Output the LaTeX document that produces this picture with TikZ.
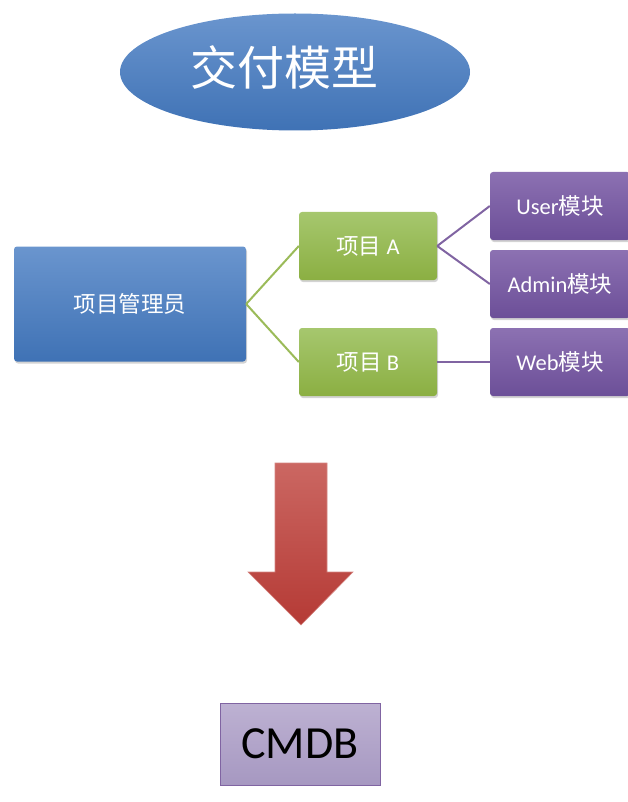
\documentclass[tikz,border=0pt]{standalone}
\usepackage{fontspec}
\setmainfont{Carlito}
\newfontfamily\cjk{Noto Sans CJK SC}
\usetikzlibrary{shadows,shapes.geometric}

\definecolor{bluetop}{HTML}{6A95CE}
\definecolor{bluebot}{HTML}{3F72B5}
\definecolor{greentop}{HTML}{A6C76E}
\definecolor{greenbot}{HTML}{8BAF42}
\definecolor{purptop}{HTML}{8C71B2}
\definecolor{purpbot}{HTML}{6C4F98}
\definecolor{greenline}{HTML}{9BBB59}
\definecolor{purpline}{HTML}{8064A2}
\definecolor{redtop}{HTML}{CB6762}
\definecolor{redbot}{HTML}{B53A35}
\definecolor{cmdbtop}{HTML}{BDB1D2}
\definecolor{cmdbbot}{HTML}{A698C1}

\tikzset{
  box/.style={rectangle, rounded corners=3pt, text=white, font=\fontsize{22.5}{26}\selectfont,
    drop shadow={opacity=0.35, shadow xshift=1pt, shadow yshift=-2pt}},
  bluebox/.style={box, top color=bluetop, bottom color=bluebot},
  greenbox/.style={box, top color=greentop, bottom color=greenbot, minimum width=138pt, minimum height=68pt},
  purpbox/.style={box, top color=purptop, bottom color=purpbot, minimum width=140pt, minimum height=68pt},
  gline/.style={greenline, line width=2pt},
  pline/.style={purpline, line width=2pt}
}

\begin{document}
\begin{tikzpicture}[x=1pt,y=-1pt]
\useasboundingbox (0,0) rectangle (627,802);

\node[ellipse, top color=bluetop, bottom color=bluebot, minimum width=350pt, minimum height=117pt] (title) at (295,72) {};
\node[text=white, font=\cjk\fontsize{47}{50}\selectfont] (titletext) at (284,67) {交付模型};

\node[bluebox, minimum width=232pt, minimum height=115pt] (mgr) at (130,304) {\cjk 项目管理员};
\node[greenbox] (pa) at (368,246) {{\cjk 项目} A};
\node[greenbox] (pb) at (368,362) {{\cjk 项目} B};
\node[purpbox] (user) at (560,206) {User{\cjk 模块}};
\node[purpbox] (admin) at (560,284) {Admin{\cjk 模块}};
\node[purpbox] (web) at (560,362) {Web{\cjk 模块}};

\draw[gline] (mgr.east) -- (pa.west);
\draw[gline] (mgr.east) -- (pb.west);
\draw[pline] (pa.east) -- (user.west);
\draw[pline] (pa.east) -- (admin.west);
\draw[pline] (pb.east) -- (web.west);

% big arrow
\shade[top color=redtop, bottom color=redbot, draw=redtop!80!white, line width=0.6pt]
  (275,463) -- (327,463) -- (327,572) -- (353,572) -- (301,625) -- (248,572) -- (275,572) -- cycle;

\node[rectangle, top color=cmdbtop, bottom color=cmdbbot, draw=purpline, line width=1pt,
  minimum width=160pt, minimum height=82pt, font=\fontsize{46}{50}\selectfont] (cmdb) at (300,744) {CMDB};
\end{tikzpicture}
\end{document}
